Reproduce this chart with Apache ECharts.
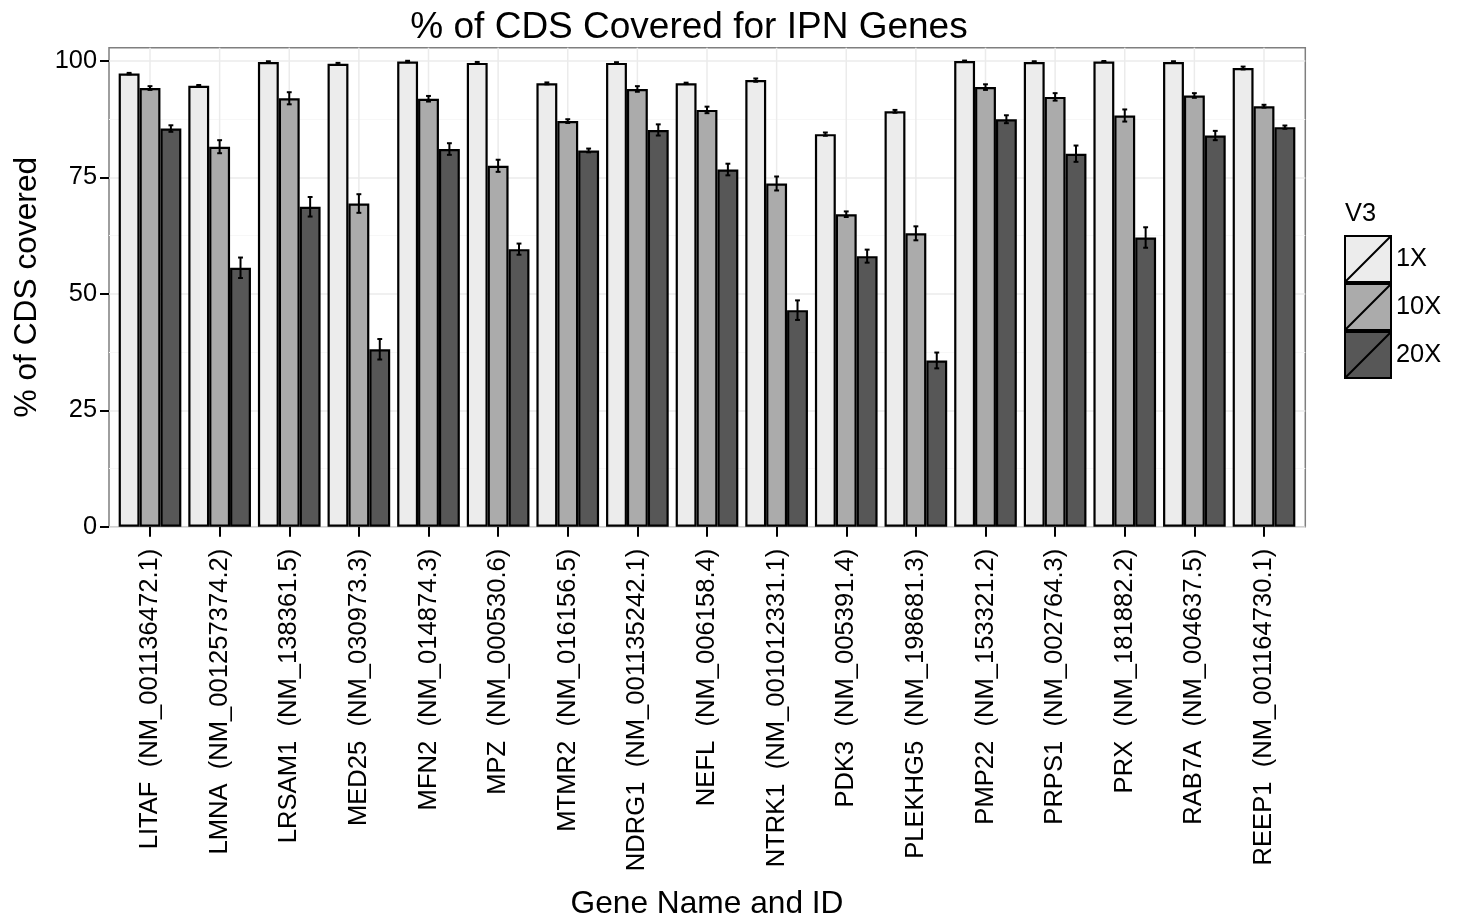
<!DOCTYPE html>
<html><head><meta charset="utf-8">
<script src="https://cdn.jsdelivr.net/npm/echarts@6/dist/echarts.min.js"></script>
<style>html,body{margin:0;padding:0;background:#fff}#c{width:1461px;height:923px}</style>
</head><body><div id="c"></div>
<script>
const genes = ['LITAF','LMNA','LRSAM1','MED25','MFN2','MPZ','MTMR2','NDRG1','NEFL','NTRK1','PDK3','PLEKHG5','PMP22','PRPS1','PRX','RAB7A','REEP1'];
const ids = ['NM_001136472.1','NM_001257374.2','NM_138361.5','NM_030973.3','NM_014874.3','NM_000530.6','NM_016156.5','NM_001135242.1','NM_006158.4','NM_001012331.1','NM_005391.4','NM_198681.3','NM_153321.2','NM_002764.3','NM_181882.2','NM_004637.5','NM_001164730.1'];
const categories = genes.map((g, i) => g + '  (' + ids[i] + ')');
const levels = ['1X', '10X', '20X'];
const cov1X  = [97.3, 94.7, 99.8, 99.4, 99.9, 99.6, 95.2, 99.6, 95.2, 95.9, 84.3, 89.2, 100.0, 99.8, 99.9, 99.8, 98.5];
const err1X  = [0.15, 0.15, 0.15, 0.2, 0.15, 0.2, 0.2, 0.15, 0.15, 0.35, 0.35, 0.3, 0.1, 0.15, 0.1, 0.15, 0.3];
const cov10X = [94.2, 81.6, 92.0, 69.4, 91.9, 77.5, 87.1, 94.0, 89.5, 73.7, 67.1, 63.0, 94.4, 92.3, 88.3, 92.6, 90.3];
const err10X = [0.4, 1.4, 1.3, 2.0, 0.6, 1.3, 0.4, 0.6, 0.7, 1.5, 0.6, 1.5, 0.6, 0.8, 1.3, 0.5, 0.3];
const cov20X = [85.5, 55.6, 68.7, 38.1, 81.1, 59.6, 80.8, 85.2, 76.7, 46.5, 58.1, 35.7, 87.5, 80.1, 62.1, 84.0, 85.8];
const err20X = [0.7, 2.2, 2.1, 2.2, 1.25, 1.2, 0.4, 1.2, 1.25, 2.1, 1.4, 1.7, 0.85, 1.75, 2.2, 1.0, 0.35];
const yTicks = [0, 25, 50, 75, 100];

const YMAX = 102.86;
const FONT = '"Liberation Sans", Arial, Helvetica, sans-serif';
const fills = ['#ececec', '#ababab', '#575757'];
const covs = [cov1X, cov10X, cov20X];
const errs = [err1X, err10X, err20X];

const errData = [];
covs.forEach((arr, s) => arr.forEach((v, i) => errData.push([i, v, errs[s][i], s])));

const chart = echarts.init(document.getElementById('c'), null, {renderer: 'canvas'});
const PL = 109, PR = 1461 - 1305.3, PT = 47.7, PB = 923 - 526.7;
const pitch = (1264 - 150) / 16;
const innerL = 150 - pitch / 2, innerW = pitch * 17;

const option = {
  animation: false,
  backgroundColor: '#fff',
  textStyle: {fontFamily: FONT, color: '#000'},
  title: [
    {text: '% of CDS Covered for IPN Genes', left: 684, top: 4, textAlign: 'center',
     textStyle: {fontFamily: FONT, fontSize: 37, fontWeight: 'normal', color: '#000'}},
    {text: 'V3', left: 1345, top: 201, padding: 0,
     textStyle: {fontFamily: FONT, fontSize: 25.4, fontWeight: 'normal', color: '#000'}}
  ],
  legend: {
    data: levels, orient: 'vertical', left: 1344, top: 235, padding: 0,
    itemWidth: 46, itemHeight: 46, itemGap: 0,
    icon: 'path://M0,0L10,0L10,10L0,10ZM0,10L10,0',
    itemStyle: {borderColor: '#000', borderWidth: 2},
    textStyle: {fontFamily: FONT, fontSize: 25.4, color: '#000'},
    selectedMode: false
  },
  grid: [
    {left: PL, right: PR, top: PT, bottom: PB, show: true, borderColor: '#7f7f7f', borderWidth: 1.5,
     backgroundColor: '#fff', containLabel: false, outerBoundsMode: 'none'},
    {left: innerL, width: innerW, top: PT, bottom: PB, containLabel: false, outerBoundsMode: 'none'}
  ],
  xAxis: [
    {gridIndex: 0, type: 'value', min: 0, max: 1, show: false},
    {gridIndex: 1, type: 'category', data: categories,
     axisLine: {show: false},
     axisTick: {show: true, alignWithLabel: true, length: 10, lineStyle: {color: '#000', width: 2}},
     axisLabel: {rotate: 90, fontSize: 25.6, margin: 22, color: '#000', fontFamily: FONT, interval: 0},
     splitLine: {show: false},
     name: 'Gene Name and ID', nameLocation: 'middle', nameGap: 362,
     nameTextStyle: {fontSize: 31.7, color: '#000', fontFamily: FONT}}
  ],
  yAxis: [
    {gridIndex: 0, type: 'value', min: 0, max: YMAX, interval: 25,
     axisLine: {show: false},
     axisTick: {show: true, length: 9, customValues: yTicks, lineStyle: {color: '#000', width: 2}},
     axisLabel: {customValues: yTicks, fontSize: 25.4, margin: 12, color: '#000', fontFamily: FONT},
     splitLine: {show: true, lineStyle: {color: '#ebebeb', width: 1.5}},
     minorTick: {show: false, splitNumber: 2},
     minorSplitLine: {show: true, lineStyle: {color: '#f7f7f7', width: 1}},
     name: '% of CDS covered', nameLocation: 'middle', nameGap: 64,
     nameTextStyle: {fontSize: 31.7, color: '#000', fontFamily: FONT}},
    {gridIndex: 1, type: 'value', min: 0, max: YMAX, show: false, splitLine: {show: false}}
  ],
  series: [
    {
      type: 'custom', name: 'vgrid', xAxisIndex: 1, yAxisIndex: 1, z: 1, silent: true,
      data: categories.map((c, i) => [i]),
      renderItem: function (params, api) {
        const i = api.value(0);
        const p0 = api.coord([i, 0]);
        const p1 = api.coord([i, YMAX]);
        return {type: 'line', shape: {x1: p0[0], y1: p0[1], x2: p1[0], y2: p1[1]},
                style: {stroke: '#ebebeb', lineWidth: 1.5}};
      }
    },
    ...levels.map((lv, s) => ({
      type: 'bar', name: lv, xAxisIndex: 1, yAxisIndex: 1, z: 2,
      data: covs[s], barWidth: '30%', barGap: '0%',
      itemStyle: {color: fills[s], borderColor: '#000', borderWidth: 2.2},
      emphasis: {disabled: true}, silent: true
    })),
    {
      type: 'custom', name: 'err', xAxisIndex: 1, yAxisIndex: 1, z: 3, silent: true,
      data: errData,
      encode: {x: 0, y: 1},
      renderItem: function (params, api) {
        const i = api.value(0), v = api.value(1), e = api.value(2), s = api.value(3);
        const band = api.size([1, 0])[0];
        const x = api.coord([i, v])[0] + (s - 1) * band * 0.3;
        const yT = api.coord([i, v + e])[1];
        const yB = api.coord([i, v - e])[1];
        const cap = band * 0.035;
        const st = {stroke: '#000', lineWidth: 2};
        return {type: 'group', children: [
          {type: 'line', shape: {x1: x, y1: yT, x2: x, y2: yB}, style: st},
          {type: 'line', shape: {x1: x - cap, y1: yT, x2: x + cap, y2: yT}, style: st},
          {type: 'line', shape: {x1: x - cap, y1: yB, x2: x + cap, y2: yB}, style: st}
        ]};
      }
    }
  ]
};
chart.setOption(option);
</script>
</body></html>
